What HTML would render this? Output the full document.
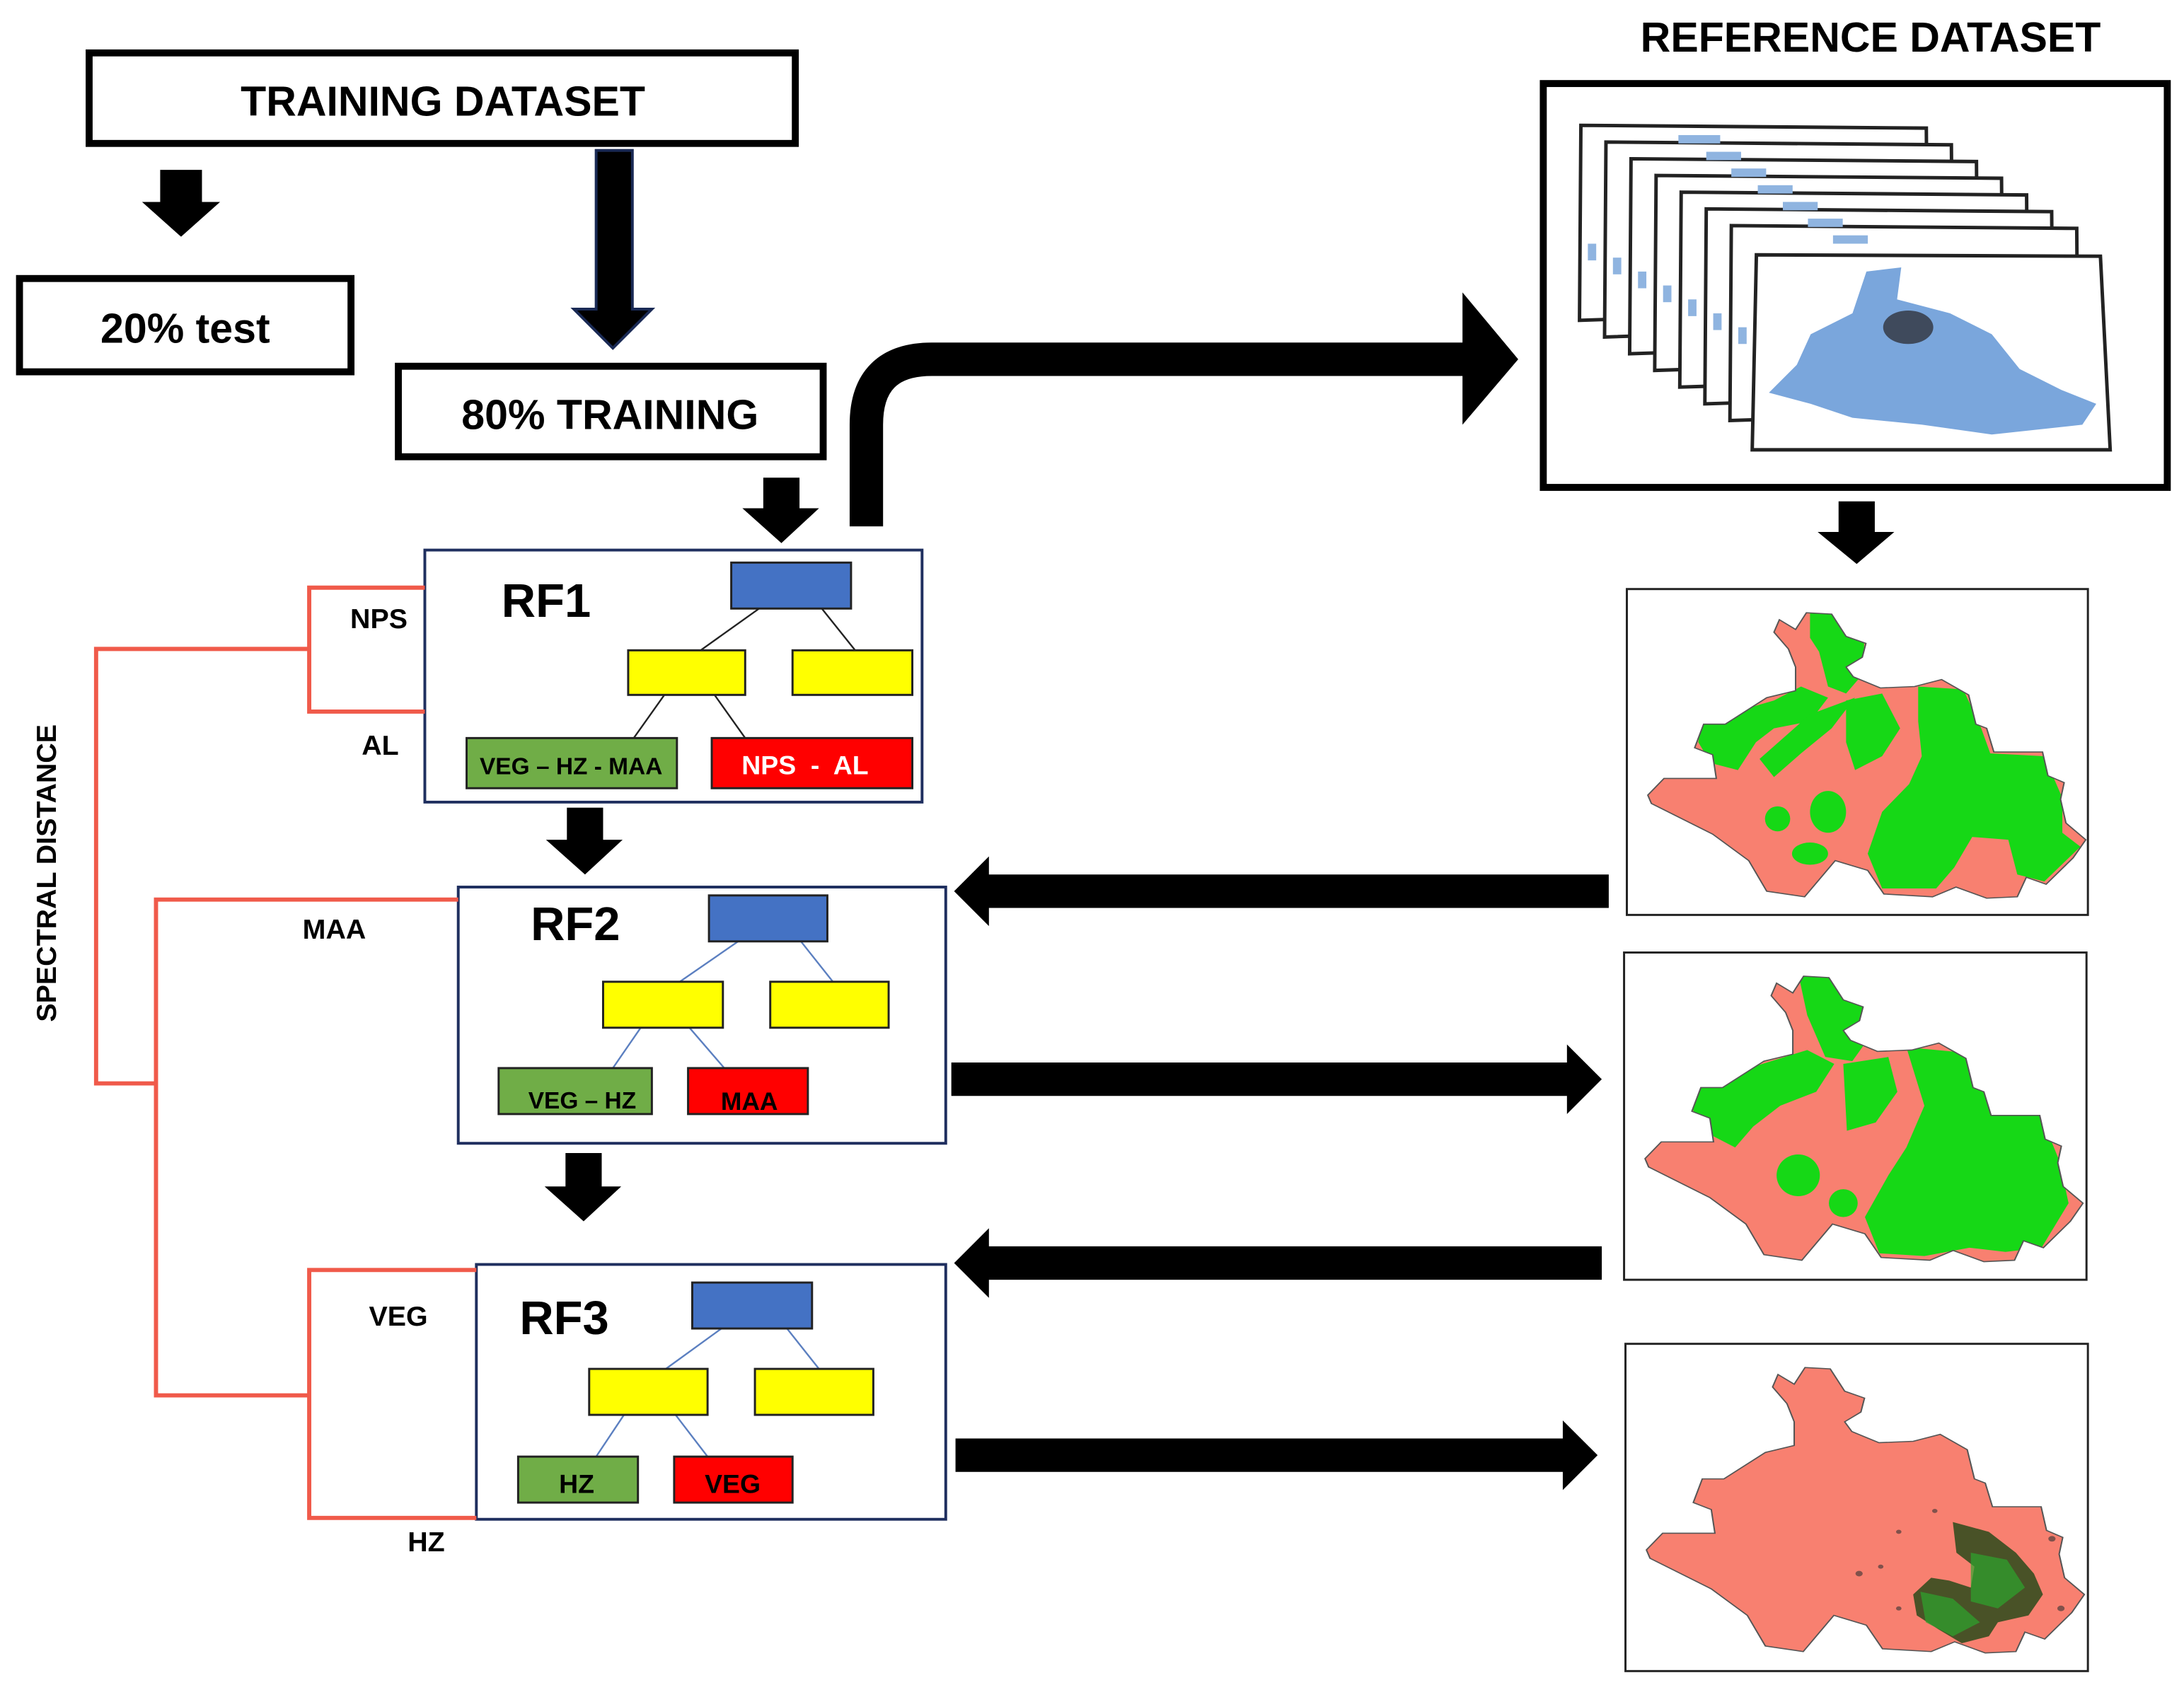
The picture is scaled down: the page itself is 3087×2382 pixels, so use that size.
<!DOCTYPE html>
<html><head><meta charset="utf-8"><style>
html,body{margin:0;padding:0;background:#fff;}
svg{display:block;}
text{font-family:"Liberation Sans",sans-serif;font-weight:bold;}
</style></head><body>
<svg width="3087" height="2382" viewBox="0 0 1568 1210" preserveAspectRatio="none" xmlns="http://www.w3.org/2000/svg">
<defs>
<path id="map" d="M80 31 L83 22 L92 29 L98 17 L112 18 L120 34 L131 39 L129 49 L120 56 L124 63 L139 71 L158 70 L173 65 L188 76 L192 97 L198 100 L202 117 L229 117 L232 134 L241 139 L239 151 L242 168 L253 180 L246 193 L231 212 L220 207 L215 221 L198 222 L181 214 L168 221 L141 219 L132 202 L114 195 L97 221 L76 217 L66 195 L46 176 L12 154 L10 148 L19 136 L48 136 L46 119 L36 114 L41 97 L53 97 L76 78 L92 73 L92 56 L88 43 Z"/>
<clipPath id="mc"><use href="#map"/></clipPath>
</defs>
<rect width="1568" height="1210" fill="#fff"/>

<rect x="64" y="38" width="507" height="65" fill="none" stroke="#000" stroke-width="5"/>
<text x="318" y="83" font-size="30" text-anchor="middle">TRAINING DATASET</text>
<path d="M115 122 H145 V145 H158 L130 170 L102 145 H115 Z" fill="#000"/>
<rect x="14" y="200" width="238" height="67" fill="none" stroke="#000" stroke-width="5"/>
<text x="133" y="246" font-size="30" text-anchor="middle">20% test</text>
<path d="M428 108 H454 V222 H468 L440 250 L412 222 H428 Z" fill="#000" stroke="#1a2a55" stroke-width="2"/>
<rect x="286" y="263" width="305" height="65" fill="none" stroke="#000" stroke-width="5"/>
<text x="438" y="308" font-size="30" text-anchor="middle">80% TRAINING</text>
<path d="M548 343 H574 V365 H588 L561 390 L533 365 H548 Z" fill="#000"/>
<path d="M622 378 V305 Q622 258 669 258 H1052" fill="none" stroke="#000" stroke-width="24"/>
<path d="M1050 210 L1090 258 L1050 305 Z" fill="#000"/>

<text x="1343" y="37" font-size="30" text-anchor="middle">REFERENCE DATASET</text>
<rect x="1108" y="60" width="448" height="290" fill="none" stroke="#000" stroke-width="5"/>
<g stroke="#222" stroke-width="2.5" fill="#fff">
<path d="M1135 90 L1383 92 L1384 222 L1134 230 Z"/>
<path d="M1153 102 L1401 104 L1402 234 L1152 242 Z"/>
<path d="M1171 114 L1419 116 L1420 246 L1170 254 Z"/>
<path d="M1189 126 L1437 128 L1438 258 L1188 266 Z"/>
<path d="M1207 138 L1455 140 L1456 270 L1206 278 Z"/>
<path d="M1225 150 L1473 152 L1474 282 L1224 290 Z"/>
<path d="M1243 162 L1491 164 L1492 294 L1242 302 Z"/>
<path d="M1261 183 L1508 184 L1515 323 L1258 323 Z"/>
</g>
<g fill="#8fb4e0">
<rect x="1205" y="97" width="30" height="6"/><rect x="1225" y="109" width="25" height="6"/>
<rect x="1243" y="121" width="25" height="6"/><rect x="1262" y="133" width="25" height="6"/>
<rect x="1280" y="145" width="25" height="6"/><rect x="1298" y="157" width="25" height="6"/>
<rect x="1316" y="169" width="25" height="6"/>
<rect x="1140" y="175" width="6" height="12"/><rect x="1158" y="185" width="6" height="12"/>
<rect x="1176" y="195" width="6" height="12"/><rect x="1194" y="205" width="6" height="12"/>
<rect x="1212" y="215" width="6" height="12"/><rect x="1230" y="225" width="6" height="12"/>
<rect x="1248" y="235" width="6" height="12"/>
<path d="M1340 195 L1365 192 L1362 215 L1400 225 L1430 240 L1450 265 L1480 280 L1505 290 L1495 305 L1430 312 L1380 305 L1330 300 L1300 290 L1270 282 L1290 262 L1300 240 L1330 225 Z" fill="#7aa6dc"/>
<ellipse cx="1370" cy="235" rx="18" ry="12" fill="#3f4a5c"/>
</g>
<path d="M1320 360 H1346 V382 H1360 L1333 405 L1305 382 H1320 Z" fill="#000"/>

<!-- maps -->
<g transform="translate(1168,423)">
<rect x="0" y="0" width="331" height="234" fill="#fff" stroke="#222" stroke-width="1.5"/>
<g transform="translate(2.1,0) scale(1.294,1)">
<use href="#map" fill="#f88070"/>
<g clip-path="url(#mc)" fill="#16d816">
<path d="M100 15 L130 20 L130 60 L120 75 L110 70 L105 45 L100 35 Z"/>
<path d="M40 95 L80 80 L95 70 L110 78 L100 95 L80 100 L70 110 L60 130 L45 125 L38 110 Z"/>
<path d="M100 90 L125 78 L112 100 L95 118 L80 135 L72 122 Z"/>
<path d="M120 80 L140 75 L150 100 L140 120 L125 130 L120 110 Z"/>
<path d="M160 70 L185 72 L195 100 L200 118 L230 120 L240 150 L240 175 L250 185 L230 210 L215 205 L210 180 L190 178 L180 200 L170 215 L140 215 L132 190 L140 160 L155 140 L162 120 L160 95 Z"/>
<ellipse cx="82" cy="165" rx="7" ry="9"/><ellipse cx="110" cy="160" rx="10" ry="15"/><ellipse cx="100" cy="190" rx="10" ry="8"/>
</g>
<use href="#map" fill="none" stroke="#555" stroke-width="0.8"/>
</g></g>
<g transform="translate(1166,684)">
<rect x="0" y="0" width="332" height="235" fill="#fff" stroke="#222" stroke-width="1.5"/>
<g transform="translate(2.1,0) scale(1.294,1)">
<use href="#map" fill="#f88070"/>
<g clip-path="url(#mc)" fill="#16d816">
<path d="M95 15 L135 20 L135 60 L125 78 L110 75 L100 45 Z"/>
<path d="M38 95 L80 78 L100 70 L115 80 L105 100 L85 110 L70 125 L60 140 L45 130 L36 112 Z"/>
<path d="M120 80 L145 75 L150 100 L138 122 L122 128 Z"/>
<path d="M155 68 L188 72 L198 100 L230 118 L240 150 L245 180 L230 212 L210 215 L190 212 L165 218 L140 216 L132 190 L145 160 L155 140 L165 110 Z"/>
<ellipse cx="95" cy="160" rx="12" ry="15"/><ellipse cx="120" cy="180" rx="8" ry="10"/>
</g>
<use href="#map" fill="none" stroke="#555" stroke-width="0.8"/>
</g></g>
<g transform="translate(1167,965)">
<rect x="0" y="0" width="332" height="235" fill="#fff" stroke="#222" stroke-width="1.5"/>
<g transform="translate(2.1,0) scale(1.294,1)">
<use href="#map" fill="#f88070"/>
<g clip-path="url(#mc)">
<path d="M180 128 L200 135 L215 150 L225 165 L230 180 L222 195 L205 200 L200 210 L185 215 L172 205 L160 195 L158 180 L168 168 L178 170 L190 175 L192 160 L182 150 Z" fill="#2a4a1a" opacity="0.85"/>
<path d="M190 150 L210 155 L220 175 L205 190 L190 185 Z" fill="#2ea52e" opacity="0.7"/>
<path d="M162 178 L180 183 L195 200 L180 210 L165 200 Z" fill="#2ea52e" opacity="0.7"/>
<g fill="#333" opacity="0.6"><circle cx="150" cy="135" r="1.5"/><circle cx="140" cy="160" r="1.5"/><circle cx="128" cy="165" r="2"/><circle cx="235" cy="140" r="2"/><circle cx="240" cy="190" r="2"/><circle cx="170" cy="120" r="1.5"/><circle cx="150" cy="190" r="1.5"/></g>
</g>
<use href="#map" fill="none" stroke="#555" stroke-width="0.8"/>
</g></g>

<path d="M1155 628 H710 V615 L685 640 L710 665 V652 H1155 Z" fill="#000"/>
<path d="M1150 895 H710 V882 L685 907 L710 932 V919 H1150 Z" fill="#000"/>
<path d="M683 763 H1125 V750 L1150 775 L1125 800 V787 H683 Z" fill="#000"/>
<path d="M686 1033 H1122 V1020 L1147 1045 L1122 1070 V1057 H686 Z" fill="#000"/>

<rect x="305" y="395" width="357" height="181" fill="none" stroke="#1f2f5f" stroke-width="2"/>
<text x="360" y="443" font-size="34">RF1</text>
<g stroke="#222" stroke-width="1.2">
<line x1="545" y1="437" x2="503" y2="467"/><line x1="590" y1="437" x2="614" y2="467"/>
<line x1="477" y1="499" x2="455" y2="530"/><line x1="513" y1="499" x2="535" y2="530"/>
</g>
<g stroke="#222" stroke-width="1.5">
<rect x="525" y="404" width="86" height="33" fill="#4472c4"/>
<rect x="451" y="467" width="84" height="32" fill="#ffff00"/>
<rect x="569" y="467" width="86" height="32" fill="#ffff00"/>
<rect x="335" y="530" width="151" height="36" fill="#70ad47"/>
<rect x="511" y="530" width="144" height="36" fill="#ff0000"/>
</g>
<text x="410" y="556" font-size="17" text-anchor="middle" fill="#000">VEG – HZ - MAA</text>
<text x="578" y="556" font-size="19" text-anchor="middle" fill="#fff" xml:space="preserve">NPS  -  AL</text>
<path d="M407 580 H433 V603 H447 L420 628 L392 603 H407 Z" fill="#000"/>

<rect x="329" y="637" width="350" height="184" fill="none" stroke="#1f2f5f" stroke-width="2"/>
<text x="381" y="675" font-size="34">RF2</text>
<g stroke="#5b7fc0" stroke-width="1.2">
<line x1="530" y1="676" x2="488" y2="705"/><line x1="575" y1="676" x2="598" y2="705"/>
<line x1="460" y1="738" x2="440" y2="767"/><line x1="495" y1="738" x2="520" y2="767"/>
</g>
<g stroke="#222" stroke-width="1.5">
<rect x="509" y="643" width="85" height="33" fill="#4472c4"/>
<rect x="433" y="705" width="86" height="33" fill="#ffff00"/>
<rect x="553" y="705" width="85" height="33" fill="#ffff00"/>
<rect x="358" y="767" width="110" height="33" fill="#70ad47"/>
<rect x="494" y="767" width="86" height="33" fill="#ff0000"/>
</g>
<text x="418" y="796" font-size="17" text-anchor="middle">VEG – HZ</text>
<text x="538" y="797" font-size="18" text-anchor="middle">MAA</text>
<path d="M406 828 H432 V852 H446 L419 877 L391 852 H406 Z" fill="#000"/>

<rect x="342" y="908" width="337" height="183" fill="none" stroke="#1f2f5f" stroke-width="2"/>
<text x="373" y="958" font-size="34">RF3</text>
<g stroke="#5b7fc0" stroke-width="1.2">
<line x1="518" y1="954" x2="478" y2="983"/><line x1="565" y1="954" x2="588" y2="983"/>
<line x1="448" y1="1016" x2="428" y2="1046"/><line x1="485" y1="1016" x2="508" y2="1046"/>
</g>
<g stroke="#222" stroke-width="1.5">
<rect x="497" y="921" width="86" height="33" fill="#4472c4"/>
<rect x="423" y="983" width="85" height="33" fill="#ffff00"/>
<rect x="542" y="983" width="85" height="33" fill="#ffff00"/>
<rect x="372" y="1046" width="86" height="33" fill="#70ad47"/>
<rect x="484" y="1046" width="85" height="33" fill="#ff0000"/>
</g>
<text x="414" y="1072" font-size="19" text-anchor="middle">HZ</text>
<text x="526" y="1072" font-size="19" text-anchor="middle">VEG</text>

<g fill="none" stroke="#f05a4a" stroke-width="3">
<path d="M305 422 H222 V511 H305"/>
<path d="M222 466 H69 V778 H112"/>
<path d="M329 646 H112 V1002 H222"/>
<path d="M342 912 H222 V1090 H342"/>
</g>
<text x="272" y="451" font-size="20" text-anchor="middle">NPS</text>
<text x="273" y="542" font-size="20" text-anchor="middle">AL</text>
<text x="240" y="674" font-size="20" text-anchor="middle">MAA</text>
<text x="286" y="952" font-size="20" text-anchor="middle">VEG</text>
<text x="306" y="1114" font-size="20" text-anchor="middle">HZ</text>
<text transform="translate(40,627) rotate(-90)" font-size="20" text-anchor="middle">SPECTRAL DISTANCE</text>
</svg>
</body></html>
